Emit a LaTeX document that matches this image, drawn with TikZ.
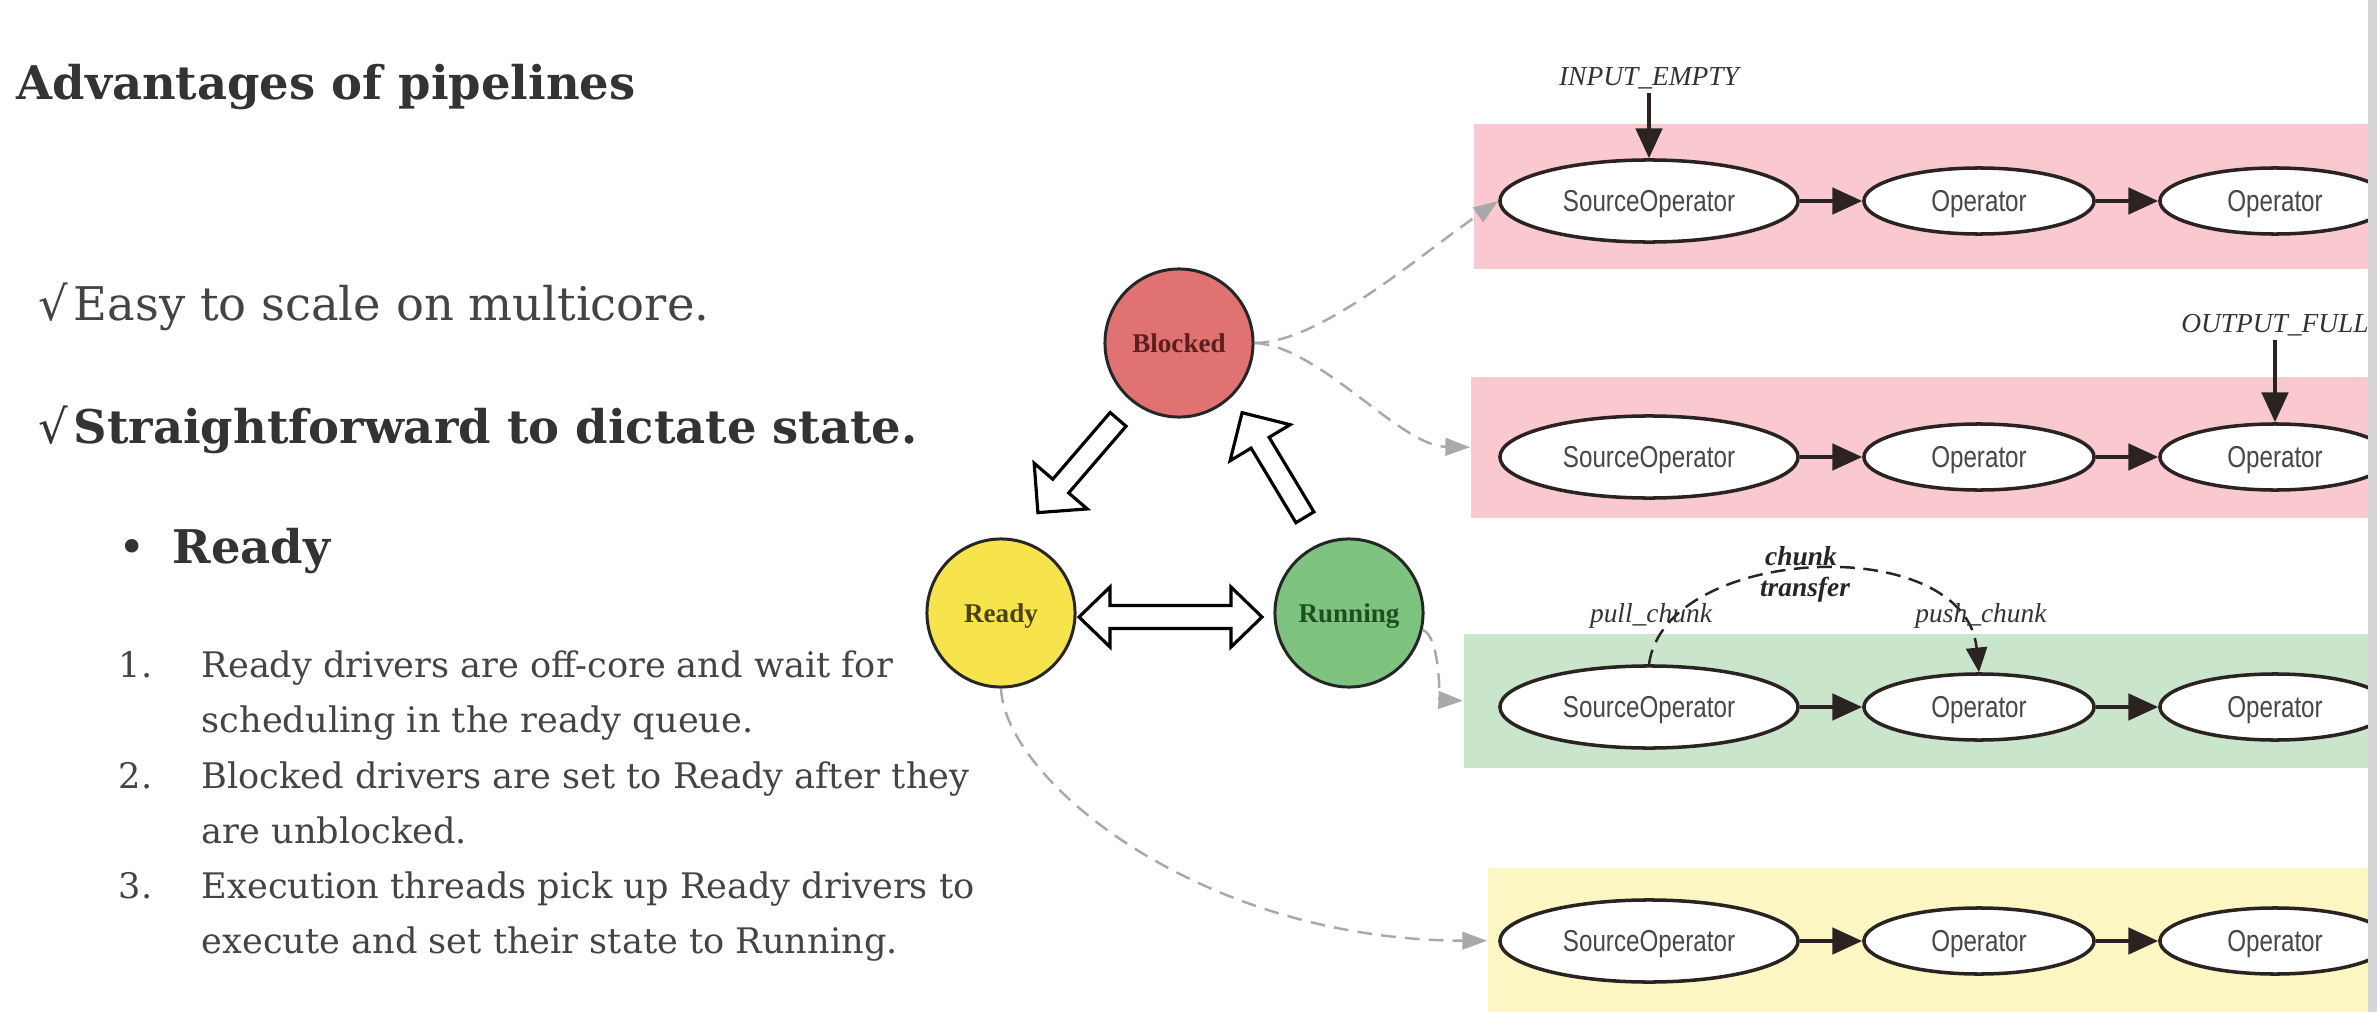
\documentclass[tikz,border=0pt]{standalone}
\usepackage{fontspec}
\setmainfont{DejaVu Serif}
\newfontfamily\statefont{Liberation Serif}
\newfontfamily\labelfont{Liberation Serif}
\newfontfamily\opfont[FakeStretch=0.8]{Liberation Sans}
\usetikzlibrary{shapes.geometric,arrows.meta,calc}

\definecolor{ink}{HTML}{444444}
\definecolor{inkbold}{HTML}{333333}
\definecolor{bandpink}{HTML}{F9C9CF}
\definecolor{bandgreen}{HTML}{C9E5CB}
\definecolor{bandyellow}{HTML}{FCF7C2}
\definecolor{blockfill}{HTML}{E07272}
\definecolor{readyfill}{HTML}{F7E34C}
\definecolor{runfill}{HTML}{7EC480}
\definecolor{blocktext}{HTML}{5C1E1E}
\definecolor{readytext}{HTML}{4A4200}
\definecolor{runtext}{HTML}{1E4F20}
\definecolor{linkgray}{HTML}{A9A9A9}
\definecolor{edgeink}{HTML}{2B2222}
\definecolor{strip}{HTML}{D6D6D6}

\newcommand\bigtext{\fontsize{13.2pt}{16pt}\selectfont}
\newcommand\smalltext{\fontsize{10pt}{12pt}\selectfont}

\tikzset{
  txt/.style={anchor=base west, inner sep=0pt, text=ink},
  band/.style={rectangle, draw=none, inner sep=0pt, anchor=north west},
  state/.style={circle, draw=black!85, line width=0.85pt, minimum size=1.48cm,
    inner sep=0pt, text depth=0pt, font=\statefont\fontsize{7.7pt}{9pt}\selectfont\bfseries},
  srcop/.style={ellipse, draw=edgeink, line width=1pt, fill=white,
    minimum width=2.98cm, minimum height=0.82cm, inner sep=0pt, text depth=0pt,
    font=\opfont\fontsize{8.6pt}{10pt}\selectfont, text=black!72},
  oper/.style={srcop, minimum width=2.30cm, minimum height=0.66cm},
  flow/.style={draw=edgeink, line width=1.1pt, -{Triangle[length=8.5pt,width=7.5pt]}},
  link/.style={draw=linkgray, line width=0.7pt, dash pattern=on 4.2pt off 2.6pt,
    -{Triangle[length=7pt,width=5pt,fill=linkgray]}},
  transfer/.style={draw=edgeink, line width=0.7pt, dash pattern=on 4.2pt off 2.4pt,
    -{Triangle[length=7pt,width=6pt]}},
  lbl/.style={inner sep=1pt, font=\labelfont\fontsize{7.8pt}{9pt}\selectfont\itshape, text=black!80},
  boldlbl/.style={lbl, font=\labelfont\fontsize{7.8pt}{9pt}\selectfont\itshape\bfseries, text=black!85},
  fatline/.style={draw=black, fill=white, line width=0.9pt, line join=miter}
}

\begin{document}
\begin{tikzpicture}[x=0.01cm, y=-0.01cm]
\useasboundingbox (0,0) rectangle (2377,1012);
\fill[white] (0,0) rectangle (2377,1012);

% ---------- slide text ----------
\node[txt, text=inkbold] (title) at (16,100) {\bigtext\bfseries Advantages of pipelines};
\node[txt] (adv1) at (38,320) {\bigtext √\kern0.12em Easy to scale on multicore.};
\node[txt, text=inkbold] (adv2) at (38,443) {\bigtext √\kern0.12em\bfseries Straightforward to dictate state.};
\node[txt, text=inkbold] (bul) at (118,563) {\bigtext •};
\node[txt, text=inkbold] (rdyhead) at (172,563) {\bigtext\bfseries Ready};

\node[txt] (n1) at (118,677) {\smalltext 1.};
\node[txt] (i1a) at (201,677) {\smalltext Ready drivers are off-core and wait for};
\node[txt] (i1b) at (201,732) {\smalltext scheduling in the ready queue.};
\node[txt] (n2) at (118,788) {\smalltext 2.};
\node[txt] (i2a) at (201,788) {\smalltext Blocked drivers are set to Ready after they};
\node[txt] (i2b) at (201,843) {\smalltext are unblocked.};
\node[txt] (n3) at (118,898) {\smalltext 3.};
\node[txt] (i3a) at (201,898) {\smalltext Execution threads pick up Ready drivers to};
\node[txt] (i3b) at (201,953) {\smalltext execute and set their state to Running.};

% ---------- pipeline bands ----------
\node[band, fill=bandpink,   minimum width=8.95cm, minimum height=1.45cm] (band1) at (1473,123) {};
\node[band, fill=bandpink,   minimum width=8.98cm, minimum height=1.41cm] (band2) at (1470,376) {};
\node[band, fill=bandgreen,  minimum width=9.05cm, minimum height=1.34cm] (band3) at (1463,633) {};
\node[band, fill=bandyellow, minimum width=8.81cm, minimum height=1.46cm] (band4) at (1487,867) {};

% ---------- driver states ----------
\node[state, fill=blockfill, text=blocktext] (blk) at (1179,343) {Blocked};
\node[state, fill=readyfill, text=readytext] (rdy) at (1001,613) {Ready};
\node[state, fill=runfill,   text=runtext]   (run) at (1349,613) {Running};

% state transitions as hollow block arrows
\begin{scope}[shift={($(blk)!0.5!(rdy)+(-12,-12)$)}, rotate=229.3]
  \draw[fatline] (-61.5,-10.5) -- (26.5,-10.5) -- (26.5,-35) -- (61.5,0)
    -- (26.5,35) -- (26.5,10.5) -- (-61.5,10.5) -- cycle;
\end{scope}
\begin{scope}[shift={($(run)!0.5!(blk)+(9.5,-13)$)}, rotate=121]
  \draw[fatline] (-61,-10.5) -- (26,-10.5) -- (26,-35) -- (61,0)
    -- (26,35) -- (26,10.5) -- (-61,10.5) -- cycle;
\end{scope}
\begin{scope}[shift={($(rdy)!0.5!(run)+(-4.5,4)$)}]
  \draw[fatline] (-91.5,0) -- (-60.5,-30) -- (-60.5,-11.5) -- (60.5,-11.5)
    -- (60.5,-30) -- (91.5,0) -- (60.5,30) -- (60.5,11.5) -- (-60.5,11.5)
    -- (-60.5,30) -- cycle;
\end{scope}

% ---------- operators ----------
\node[srcop] (s1)  at (1649,201) {SourceOperator};
\node[oper]  (o1a) at (1979,201) {Operator};
\node[oper]  (o1b) at (2275,201) {Operator};

\node[srcop] (s2)  at (1649,457) {SourceOperator};
\node[oper]  (o2a) at (1979,457) {Operator};
\node[oper]  (o2b) at (2275,457) {Operator};

\node[srcop] (s3)  at (1649,707) {SourceOperator};
\node[oper]  (o3a) at (1979,707) {Operator};
\node[oper]  (o3b) at (2275,707) {Operator};

\node[srcop] (s4)  at (1649,941) {SourceOperator};
\node[oper]  (o4a) at (1979,941) {Operator};
\node[oper]  (o4b) at (2275,941) {Operator};

\draw[flow] (s1) -- (o1a);  \draw[flow] (o1a) -- (o1b);
\draw[flow] (s2) -- (o2a);  \draw[flow] (o2a) -- (o2b);
\draw[flow] (s3) -- (o3a);  \draw[flow] (o3a) -- (o3b);
\draw[flow] (s4) -- (o4a);  \draw[flow] (o4a) -- (o4b);

% blocking reasons
\node[lbl] (inempty) at (1649,78) {INPUT\_EMPTY};
\draw[flow] (inempty.south) -- (s1.north);
\node[lbl] (outfull) at (2275,325) {OUTPUT\_FULL};
\draw[flow] (outfull.south) -- (o2b.north);

% chunk transfer inside a running driver
\draw[transfer] (s3.north) .. controls (1665,545) and (1965,530) .. (o3a.north);
\node[lbl] (pull) at (1651,616) {pull\_chunk};
\node[lbl] (push) at (1981,616) {push\_chunk};
\node[boldlbl] (chk) at (1801,556) {chunk};
\node[boldlbl] (trf) at (1805,590) {transfer};

% ---------- state to pipeline links ----------
\draw[link] (blk.east) .. controls (1320,343) and (1420,255) .. (s1.west);
\draw[link] (blk.east) .. controls (1320,346) and (1400,446) .. (band2.west);
\draw[link] (run.-13) .. controls (1440,635) and (1440,700) .. (band3.west);
\draw[link] (rdy.south) .. controls (1005,780) and (1200,940) .. (band4.west);

% screen edge
\fill[strip] (2368,0) rectangle (2377,1012);
\end{tikzpicture}
\end{document}
